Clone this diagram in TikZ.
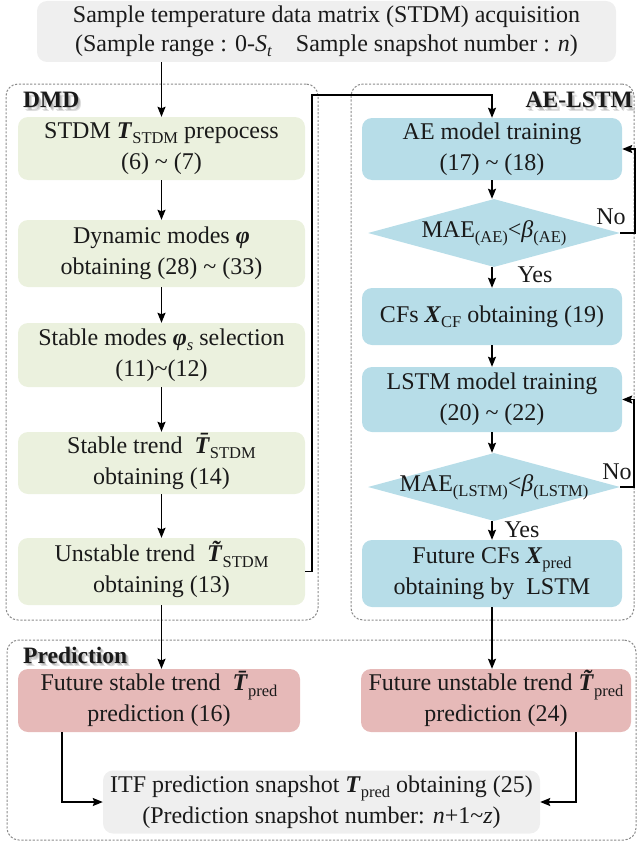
\documentclass[tikz,border=0pt]{standalone}
\usepackage{fontspec}
\setmainfont{Liberation Serif}
\usetikzlibrary{shapes.geometric,arrows.meta}

\definecolor{topgray}{HTML}{EFEFEF}
\definecolor{dmdgreen}{HTML}{EBF1DE}
\definecolor{aeblue}{HTML}{B7DDE8}
\definecolor{predred}{HTML}{E6B9B8}
\definecolor{framegray}{HTML}{8C8C8C}
\definecolor{ink}{HTML}{1A1A1A}

% lowered, smaller subscript text
\newcommand\sbs[1]{\raisebox{-0.22em}{\fontsize{16.5}{16.5}\selectfont #1}}
\newcommand\bvec[1]{\textbf{\textit{#1}}}
% bold italic T with an accent mark placed over it (bar or tilde)
\newcommand\accT[1]{\ooalign{\bvec{T}\cr\hidewidth\kern0.12em\raisebox{0.19em}{\bvec{#1}}\hidewidth\cr}}
\newcommand\barT{\accT{ˉ}}
\newcommand\tilT{\accT{˜}}

\begin{document}
\begin{tikzpicture}[x=1pt,y=-1pt,
  flow/.style={rounded corners=10pt, inner sep=0pt, align=center, text=ink,
    font=\fontsize{24}{31}\selectfont},
  graybox/.style={flow, fill=topgray},
  greenbox/.style={flow, fill=dmdgreen, minimum width=287pt},
  bluebox/.style={flow, fill=aeblue, minimum width=260pt},
  redbox/.style={flow, fill=predred},
  decision/.style={diamond, fill=aeblue, inner sep=0pt, minimum width=252pt, minimum height=68pt},
  dtext/.style={inner sep=0pt, text=ink, font=\fontsize{24}{31}\selectfont},
  group/.style={draw=framegray, dash pattern=on 2.2pt off 1.6pt, line width=1pt,
    rounded corners=12pt, inner sep=0pt},
  grouptitle/.style={inner sep=0pt, text=ink, font=\fontsize{23.5}{28}\selectfont\bfseries},
  groupshadow/.style={grouptitle, text=black, opacity=0.13},
  note/.style={inner sep=0pt, text=ink, font=\fontsize{24}{28}\selectfont},
  arr/.style={-{Stealth[length=10pt,width=8pt,inset=1.5pt]}, line width=1.5pt, draw=black},
  ln/.style={line width=1.5pt, draw=black}]

\useasboundingbox (0,0) rectangle (638,843);

% dashed group frames
\node[group, minimum width=312pt, minimum height=536pt] (dmdframe) at (162,352) {};
\node[group, minimum width=283pt, minimum height=536pt] (aeframe) at (492.5,352) {};
\node[group, minimum width=629pt, minimum height=200pt] (predframe) at (321.5,740) {};

% group titles with soft shadow
\foreach \d in {1,2,3} {
  \node[groupshadow, anchor=west] (dmdsh\d) at (23+\d,100+1.3*\d) {DMD};
  \node[groupshadow, anchor=east] (aesh\d) at (633+\d,100+1.3*\d) {AE-LSTM};
  \node[groupshadow, anchor=west] (predsh\d) at (23+\d,655+1.3*\d) {Prediction};
}
\node[grouptitle, anchor=west] (dmdtitle) at (23,100) {DMD};
\node[grouptitle, anchor=east] (aetitle) at (633,100) {AE-LSTM};
\node[grouptitle, anchor=west] (predtitle) at (23,655) {Prediction};

% acquisition
\node[graybox, minimum width=579pt, minimum height=61pt, font=\fontsize{24}{29}\selectfont] (top) at (326.5,31.5)
  {Sample temperature data matrix (STDM) acquisition\\(Sample range : 0-\textit{S}\sbs{\textit{t}}\quad Sample snapshot number : \textit{n})};

% DMD branch
\node[greenbox, minimum height=63pt] (b1) at (161.5,148.5)
  {STDM \bvec{T}\sbs{STDM} prepocess\\(6) \textasciitilde{} (7)};
\node[greenbox, minimum height=67pt] (b2) at (161.5,253.5)
  {Dynamic modes \bvec{φ}\\obtaining (28) \textasciitilde{} (33)};
\node[greenbox, minimum height=64pt] (b3) at (161.5,355)
  {Stable modes \bvec{φ}\sbs{\textit{s}} selection\\(11)\textasciitilde(12)};
\node[greenbox, minimum height=62pt] (b4) at (161.5,463)
  {Stable trend \ \barT\sbs{STDM}\\obtaining (14)};
\node[greenbox, minimum height=67pt] (b5) at (161.5,571.5)
  {Unstable trend \ \tilT\sbs{STDM}\\obtaining (13)};

% AE-LSTM branch
\node[bluebox, minimum height=62pt] (ae) at (492,149)
  {AE model training\\(17) \textasciitilde{} (18)};
\node[decision] (d1) at (494,233) {};
\node[dtext] (d1t) at (d1) {MAE\sbs{(AE)}<\textit{β}\sbs{(AE)}};
\node[bluebox, minimum height=57pt] (cf) at (492,316.5)
  {CFs \bvec{X}\sbs{CF} obtaining (19)};
\node[bluebox, minimum height=65pt] (lstm) at (492,399.5)
  {LSTM model training\\(20) \textasciitilde{} (22)};
\node[decision] (d2) at (494,487) {};
\node[dtext] (d2t) at (d2) {MAE\sbs{(LSTM)}<\textit{β}\sbs{(LSTM)}};
\node[bluebox, minimum height=67pt] (fut) at (492,573.5)
  {Future CFs \bvec{X}\sbs{pred}\\obtaining by\ \ LSTM};

% prediction stage
\node[redbox, minimum width=282pt, minimum height=63pt] (redL) at (159,700.5)
  {Future stable trend \ \barT\sbs{pred}\\prediction (16)};
\node[redbox, minimum width=270pt, minimum height=63pt] (redR) at (496,700.5)
  {Future unstable trend \tilT\sbs{pred}\\prediction (24)};
\node[graybox, minimum width=437pt, minimum height=63pt] (itf) at (321.5,802)
  {ITF prediction snapshot \bvec{T}\sbs{pred} obtaining (25)\\(Prediction snapshot number: \textit{n}+1\textasciitilde\textit{z})};

% branch labels
\node[note] (yes1) at (535,275) {Yes};
\node[note] (yes2) at (522,530) {Yes};
\node[note] (no1) at (611,217) {No};
\node[note] (no2) at (617,472) {No};

% connectors
\draw[arr] (top.south -| b1.north) -- (b1.north);
\draw[arr] (b1) -- (b2);
\draw[arr] (b2) -- (b3);
\draw[arr] (b3) -- (b4);
\draw[arr] (b4) -- (b5);

\coordinate (j1) at (312,95);
\draw[arr] (b5.east) -| (j1) -- (j1 -| ae.north) -- (ae.north);

\draw[arr] (ae.south) -- (ae.south |- d1.north);
\draw[arr] (d1.south -| ae.south) -- (cf.north);
\draw[arr] (cf) -- (lstm);
\draw[arr] (lstm.south) -- (lstm.south |- d2.north);
\draw[arr] (d2.south -| lstm.south) -- (fut.north);

\draw[arr] (d1.east) -- ++(15,0) |- (ae.east);
\draw[arr] (d2.east) -- ++(14,0) |- (lstm.east);

\draw[arr] (b5.south) -- (b5.south |- redL.north);
\draw[arr] (fut.south) -- (fut.south |- redR.north);

\draw[arr] ([xshift=-97pt]redL.south) |- (itf.west);
\draw[arr] ([xshift=80pt]redR.south) |- (itf.east);

\end{tikzpicture}
\end{document}
